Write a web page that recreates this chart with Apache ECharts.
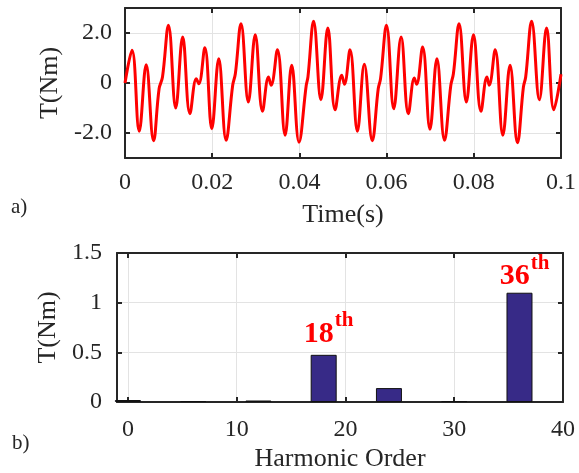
<!DOCTYPE html>
<html>
<head>
<meta charset="utf-8">
<script src="https://cdn.jsdelivr.net/npm/echarts@6/dist/echarts.min.js"></script>
<style>
  html, body { margin: 0; padding: 0; background: #fff; }
  #chart { width: 579px; height: 473px; }
</style>
</head>
<body>
<div id="chart"></div>
<script>
// a) torque waveform (peaks, troughs, shoulders)
var timeData = [
    0, 0.0016, 0.00326, 0.00486, 0.00655, 0.00782, 0.0086, 0.00997, 0.01163, 0.01323,
    0.01489, 0.01635, 0.01694, 0.01831, 0.01991, 0.0215, 0.02319, 0.0247, 0.02531, 0.02661,
    0.02828, 0.02987, 0.03154, 0.03291, 0.03352, 0.03496, 0.03672, 0.03824, 0.03991, 0.04157,
    0.04196, 0.04326, 0.04493, 0.04652, 0.04819, 0.04971, 0.05033, 0.05161, 0.0533, 0.05489,
    0.05672, 0.05808, 0.05861, 0.05998, 0.06164, 0.06333, 0.06499, 0.06636, 0.06689, 0.06826,
    0.06994, 0.07154, 0.07327, 0.07473, 0.07532, 0.07662, 0.07829, 0.07993, 0.08164, 0.08301,
    0.08354, 0.0849, 0.08666, 0.08832, 0.09001, 0.09138, 0.0919, 0.09327, 0.09503, 0.09669,
    0.09836, 0.1
];
var torqueData = [
    0, 1.31, -1.93, 0.73, -2.31, -0.23, 0.24, 2.31, -1.0, 1.84,
    -1.23, 0.17, -0.03, 1.41, -1.83, 0.97, -2.29, -0.09, 0.37, 2.37,
    -0.76, 1.93, -1.13, 0.24, -0.09, 1.33, -2.09, 0.71, -2.37, -0.09,
    0.24, 2.47, -0.67, 2.2, -1.07, 0.31, -0.05, 1.33, -1.93, 0.75,
    -2.31, -0.23, 0.17, 2.31, -1.03, 1.84, -1.23, 0.2, -0.05, 1.44,
    -1.85, 0.97, -2.29, -0.09, 0.37, 2.37, -0.76, 1.93, -1.13, 0.24,
    -0.09, 1.33, -2.09, 0.71, -2.39, -0.16, 0.24, 2.47, -0.67, 2.2,
    -1.07, 0.35
];
var timeTicks = [0, 0.02, 0.04, 0.06, 0.08, 0.1];
var torqueTicks = [-2, 0, 2];

// b) harmonic spectrum
var harmonicOrders = [0, 6, 12, 18, 24, 30, 36];
var harmonicAmps = [0.02, 0.01, 0.015, 0.475, 0.14, 0.01, 1.1];
var orderTicks = [0, 10, 20, 30, 40];
var labelledOrders = [18, 36];

var myChart = echarts.init(document.getElementById('chart'));

var serif = 'Liberation Serif';
var ink = '#262626';
var gridColor = '#e3e3e3';

function tickStyle(custom) {
    var t = { show: true, inside: true, length: 5, lineStyle: { color: ink, width: 2 } };
    if (custom) t.customValues = custom;
    return t;
}

function frameAxis(extra) {
    var base = {
        axisLine: { show: true, onZero: false, lineStyle: { color: ink, width: 2 } },
        axisTick: tickStyle(),
        axisLabel: { show: false },
        splitLine: { show: false }
    };
    return Object.assign(base, extra);
}

var nameStyle = { fontFamily: serif, fontSize: 26, color: ink };

var waveLine = timeData.map(function (t, i) { return [t, torqueData[i]]; });

var bars = harmonicOrders.map(function (h, i) {
    var item = { value: [h, harmonicAmps[i]] };
    if (labelledOrders.indexOf(h) >= 0) {
        item.label = {
            show: true,
            position: 'top',
            distance: 0,
            offset: h === 18 ? [5, -6] : [5, -1],
            formatter: '{a|' + h + '}{b|th}',
            rich: {
                a: { fontFamily: serif, fontWeight: 'bold', fontSize: 30, color: '#ff0000', lineHeight: 30, verticalAlign: 'middle' },
                b: { fontFamily: serif, fontWeight: 'bold', fontSize: 21, color: '#ff0000', lineHeight: 20, verticalAlign: 'middle', padding: [0, 0, 27, 1] }
            }
        };
    }
    return item;
});

var option = {
    backgroundColor: '#fff',
    animation: false,
    textStyle: { fontFamily: serif, color: ink },
    grid: [
        { left: 125, top: 8, width: 438.5, height: 150 },
        { left: 117, top: 253, width: 446, height: 149.5 }
    ],
    xAxis: [
        frameAxis({
            type: 'value', gridIndex: 0, position: 'bottom', min: 0, max: 0.1, interval: 0.02,
            axisLabel: { show: true, fontFamily: serif, fontSize: 24, color: ink, margin: 13, customValues: timeTicks },
            axisTick: tickStyle(timeTicks),
            splitLine: { show: true, lineStyle: { color: gridColor, width: 1 } },
            name: 'Time(s)', nameLocation: 'middle', nameGap: 44, nameTextStyle: nameStyle
        }),
        frameAxis({ type: 'value', gridIndex: 0, position: 'top', min: 0, max: 0.1, interval: 0.02 }),
        frameAxis({
            type: 'value', gridIndex: 1, position: 'bottom', min: -1, max: 40,
            axisLabel: { show: true, fontFamily: serif, fontSize: 24, color: ink, margin: 16, customValues: orderTicks },
            axisTick: tickStyle(orderTicks),
            splitLine: { show: true, lineStyle: { color: gridColor, width: 1 } },
            name: 'Harmonic Order', nameLocation: 'middle', nameGap: 44, nameTextStyle: nameStyle
        }),
        frameAxis({
            type: 'value', gridIndex: 1, position: 'top', min: -1, max: 40,
            axisTick: tickStyle(orderTicks)
        })
    ],
    yAxis: [
        frameAxis({
            type: 'value', gridIndex: 0, position: 'left', min: -3, max: 3,
            axisLabel: {
                show: true, fontFamily: serif, fontSize: 24, color: ink, margin: 13, customValues: torqueTicks,
                formatter: function (v) { return v === 0 ? '0' : v.toFixed(1); }
            },
            axisTick: tickStyle(torqueTicks),
            splitLine: { show: true, lineStyle: { color: gridColor, width: 1 } },
            name: 'T(Nm)', nameLocation: 'middle', nameGap: 62, nameRotate: 90, nameTextStyle: nameStyle
        }),
        frameAxis({
            type: 'value', gridIndex: 0, position: 'right', min: -3, max: 3,
            axisTick: tickStyle(torqueTicks)
        }),
        frameAxis({
            type: 'value', gridIndex: 1, position: 'left', min: 0, max: 1.5, interval: 0.5,
            axisLabel: { show: true, fontFamily: serif, fontSize: 24, color: ink, margin: 15 },
            splitLine: { show: true, lineStyle: { color: gridColor, width: 1 } },
            name: 'T(Nm)', nameLocation: 'middle', nameGap: 54, nameRotate: 90, nameTextStyle: nameStyle
        }),
        frameAxis({ type: 'value', gridIndex: 1, position: 'right', min: 0, max: 1.5, interval: 0.5 })
    ],
    graphic: [
        { type: 'text', left: 11, top: 197, style: { text: 'a)', font: '21px "Liberation Serif"', fill: ink } },
        { type: 'text', left: 12, top: 433, style: { text: 'b)', font: '21px "Liberation Serif"', fill: ink } }
    ],
    series: [
        {
            type: 'line',
            xAxisIndex: 0,
            yAxisIndex: 0,
            data: waveLine,
            smooth: 0.4,
            showSymbol: false,
            lineStyle: { color: '#ff0000', width: 3 },
            z: 3
        },
        {
            type: 'bar',
            xAxisIndex: 2,
            yAxisIndex: 2,
            barWidth: 26,
            data: bars,
            itemStyle: { color: '#372a87', borderColor: '#111', borderWidth: 1 },
            z: 3
        }
    ]
};
myChart.setOption(option);
</script>
</body>
</html>
